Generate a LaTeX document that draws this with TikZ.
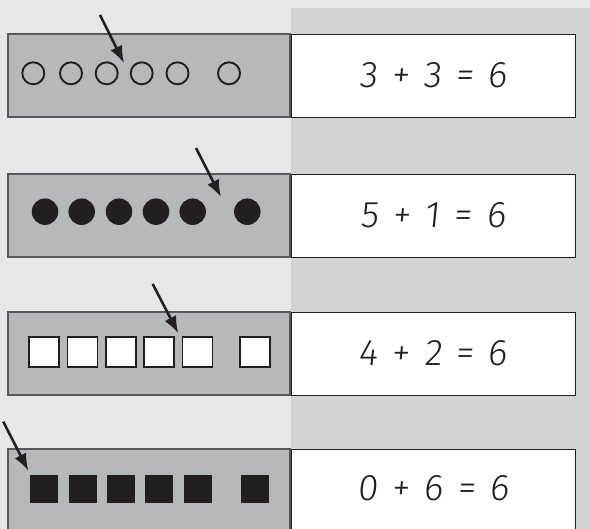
\documentclass[tikz,border=0pt]{standalone}
\usepackage{fontspec}
\newfontfamily\eqfont{Fira Sans Light}[FakeSlant=0.1]
\usetikzlibrary{arrows.meta}
\definecolor{bgl}{HTML}{E6E7E9}
\definecolor{bgr}{HTML}{D1D3D4}
\definecolor{boxg}{HTML}{B7B8BB}
\definecolor{boxline}{HTML}{58595B}
\definecolor{ink}{HTML}{231F20}
\newcommand\eqgap{\hspace{14pt}}
\begin{document}
\begin{tikzpicture}[x=1pt,y=-1pt,
 grayrow/.style={draw=boxline, line width=1.8pt, fill=boxg, rectangle, anchor=north west, minimum width=282pt, minimum height=83pt, inner sep=0pt, outer sep=0pt},
 eqbox/.style={draw=ink, line width=0.9pt, fill=white, rectangle, anchor=north west, minimum width=284pt, minimum height=83pt, inner sep=0pt, outer sep=0pt},
 eqtext/.style={font=\eqfont\fontsize{37}{40}\selectfont, text=ink, inner sep=0pt},
 ring/.style={circle, draw=ink, line width=1.9pt, minimum size=22pt, inner sep=0pt},
 dot/.style={circle, fill=ink, minimum size=26.5pt, inner sep=0pt},
 osq/.style={rectangle, draw=ink, fill=white, line width=1.7pt, minimum size=30pt, inner sep=0pt},
 fsq/.style={rectangle, fill=ink, minimum size=28pt, inner sep=0pt},
 pointer/.style={draw=ink, line width=2.6pt, -{Latex[length=17pt,width=13pt]}}
]
\useasboundingbox (0,0) rectangle (590,529);
\fill[bgl] (0,0) rectangle (590,529);
\fill[bgr] (291,8) rectangle (590,529);

% row 1
\node[grayrow] (g1) at (8,34) {};
\node[eqbox] (w1) at (291,34) {};
\node[eqtext] (t1) at (433,75) {3\eqgap+\eqgap3\eqgap=\eqgap6};
\foreach \x [count=\i] in {33.3,71,106.7,141.7,177.5,229}
  \node[ring] (r\i) at (\x,73.3) {};
\coordinate (a1s) at (100,15);
\coordinate (a1e) at (124,63);
\draw[pointer] (a1s) -- (a1e);

% row 2
\node[grayrow] (g2) at (8,174) {};
\node[eqbox] (w2) at (291,174) {};
\node[eqtext] (t2) at (433,215) {5\eqgap+\eqgap1\eqgap=\eqgap6};
\foreach \x [count=\i] in {45,81.7,119,156,192.7,247.3}
  \node[dot] (d\i) at (\x,211.7) {};
\coordinate (a2s) at (196,148);
\coordinate (a2e) at (221,197);
\draw[pointer] (a2s) -- (a2e);

% row 3
\node[grayrow] (g3) at (8,312) {};
\node[eqbox] (w3) at (291,312) {};
\node[eqtext] (t3) at (433,353) {4\eqgap+\eqgap2\eqgap=\eqgap6};
\foreach \x [count=\i] in {44,82.5,121,159,197.5,255}
  \node[osq] (s\i) at (\x,351.7) {};
\coordinate (a3s) at (152.7,284);
\coordinate (a3e) at (178.3,333.3);
\draw[pointer] (a3s) -- (a3e);

% row 4
\node[grayrow] (g4) at (8,449) {};
\node[eqbox] (w4) at (291,449) {};
\node[eqtext] (t4) at (433,488) {0\eqgap+\eqgap6\eqgap=\eqgap6};
\foreach \x [count=\i] in {43.8,82.8,121,158.8,197.8,255}
  \node[fsq] (f\i) at (\x,488.8) {};
\coordinate (a4s) at (3.3,421.7);
\coordinate (a4e) at (28.3,470.7);
\draw[pointer] (a4s) -- (a4e);
\end{tikzpicture}
\end{document}
